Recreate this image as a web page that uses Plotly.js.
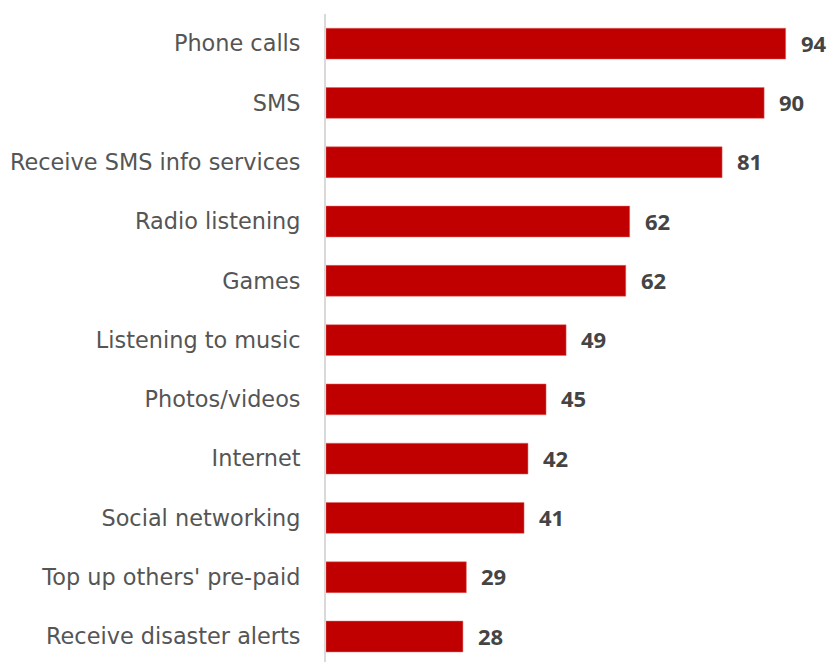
<!DOCTYPE html>
<html><head><meta charset="utf-8">
<script src="https://cdn.plot.ly/plotly-3.0.1.min.js"></script>
<style>html,body{margin:0;padding:0;background:#fff}#chart{width:829px;height:662px}</style>
</head><body><div id="chart"></div>
<script>
const categories = ["Phone calls","SMS","Receive SMS info services","Radio listening","Games","Listening to music","Photos/videos","Internet","Social networking","Top up others' pre-paid","Receive disaster alerts"];
const values = [94,89.6,81,62.1,61.3,49.1,45,41.3,40.5,28.7,28];
const valueLabels = ["94","90","81","62","62","49","45","42","41","29","28"];
const barColor = "#c00000";

const trace = {
  type: "bar", orientation: "h",
  y: categories, x: values,
  marker: {color: barColor, line: {color: "#e06666", width: 0.5}},
  hoverinfo: "none", width: 0.52
};
const annotations = categories.map((c,i)=>({
  x: values[i], y: c, xref: "x", yref: "y", text: valueLabels[i],
  showarrow: false, xanchor: "left", xshift: 13, yshift: 1,
  font: {family: "Open Sans, sans-serif", size: 22, color: "#444", weight: 700}
}));
const layout = {
  width: 829, height: 662,
  margin: {l: 326, r: 14, t: 14, b: 0},
  paper_bgcolor: "#fff", plot_bgcolor: "#fff",
  showlegend: false,
  xaxis: {range: [0, 100], showgrid: false, zeroline: false, showticklabels: false, showline: false},
  yaxis: {type: "category", range: [10.43, -0.5], showgrid: false, zeroline: false,
          showline: true, linecolor: "#d9d9d9", linewidth: 2, ticks: "", ticklabelstandoff: 19,
          tickfont: {family: "DejaVu Sans, sans-serif", size: 22.4, color: "#555"}},
  annotations: annotations
};
Plotly.newPlot("chart", [trace], layout, {displayModeBar: false, staticPlot: true});
</script></body></html>
